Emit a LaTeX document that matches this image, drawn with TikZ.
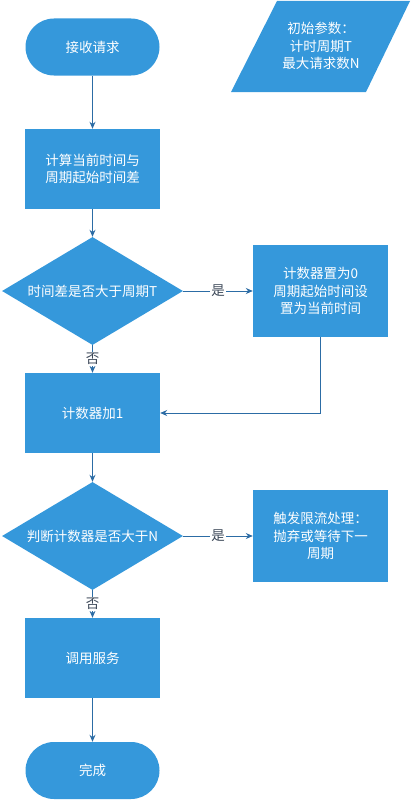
\documentclass[tikz,border=0pt]{standalone}
\usepackage{fontspec}
\setmainfont{Noto Sans CJK SC}
\usetikzlibrary{shapes.geometric,arrows.meta}
\definecolor{boxblue}{RGB}{53,152,219}
\definecolor{linkblue}{RGB}{44,108,165}
\definecolor{labgray}{RGB}{60,72,88}
\begin{document}
\begin{tikzpicture}[x=1pt,y=-1pt,
  every node/.style={font=\fontsize{13.5}{17.5}\selectfont},
  term/.style={fill=boxblue,text=white,rounded corners=28.5pt,minimum width=134pt,minimum height=57pt,inner sep=0pt},
  proc/.style={fill=boxblue,text=white,minimum width=135pt,minimum height=80pt,inner sep=0pt,align=center},
  side/.style={fill=boxblue,text=white,minimum width=135pt,minimum height=92pt,inner sep=0pt,align=center},
  test/.style={diamond,aspect=1.676,fill=boxblue,text=white,minimum width=181pt,minimum height=108pt,inner sep=0pt},
  link/.style={draw=linkblue,line width=.9pt,-{Stealth[length=7pt,width=6pt]}},
  lab/.style={fill=white,text=labgray,inner sep=1pt}]
\useasboundingbox (0,0) rectangle (411,800);
% shapes
\node[term] (start) at (92.5,47) {接收请求};
\fill[boxblue] (231,92) -- (277,1) -- (410,1) -- (366,92) -- cycle;
\node[text=white,align=center] (param) at (321,46) {初始参数：\\计时周期T\\最大请求数N};
\node[proc] (diff) at (92.5,169) {计算当前时间与\\周期起始时间差};
\node[test] (isT) at (92.5,291) {时间差是否大于周期T};
\node[side] (reset) at (320.5,291) {计数器置为0\\周期起始时间设\\置为当前时间};
\node[proc] (incr) at (92.5,413) {计数器加1};
\node[test] (isN) at (92.5,536) {判断计数器是否大于N};
\node[side] (limit) at (320.5,536) {触发限流处理：\\抛弃或等待下一\\周期};
\node[proc] (call) at (92.5,658) {调用服务};
\node[term] (done) at (92.5,770.5) {完成};
% links
\draw[link] (start) -- (diff);
\draw[link] (diff) -- (isT);
\draw[link] (isT) -- node[lab] {是} (reset);
\draw[link] (isT) -- node[lab] {否} (incr);
\draw[link] (reset.south) |- (incr.east);
\draw[link] (incr) -- (isN);
\draw[link] (isN) -- node[lab] {是} (limit);
\draw[link] (isN) -- node[lab] {否} (call);
\draw[link] (call) -- (done);
\end{tikzpicture}
\end{document}
